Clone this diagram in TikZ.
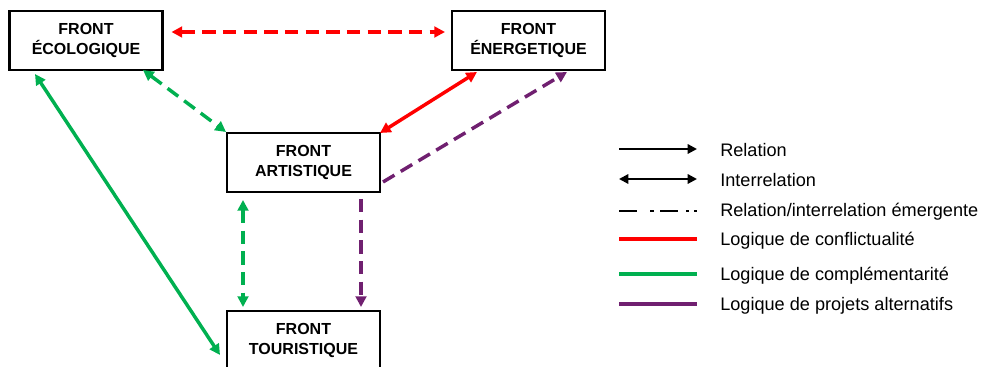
\documentclass[tikz,border=0pt]{standalone}
\usepackage{fontspec}
\setmainfont{Liberation Sans}
\usetikzlibrary{arrows.meta}

\definecolor{conflit}{RGB}{255,0,0}
\definecolor{complement}{RGB}{0,176,80}
\definecolor{alternatif}{RGB}{112,32,112}

\tikzset{
  frontbox/.style={draw, line width=1.9pt, outer sep=0pt, inner sep=0pt,
    minimum width=114.75pt, minimum height=44.25pt, align=center,
    font=\bfseries\fontsize{12}{15}\selectfont},
  lien/.style={line width=2.6pt},
  tirets/.style={dash pattern=on 10pt off 5.5pt},
  un/.style={-{Triangle[length=8pt,width=8pt]}},
  deux/.style={{Triangle[length=8pt,width=8pt]}-{Triangle[length=8pt,width=8pt]}},
  legtext/.style={anchor=base west, inner sep=0pt, font=\fontsize{13.6}{15}\selectfont},
  legline/.style={line width=3.3pt}
}

\begin{document}
\begin{tikzpicture}[x=0.75pt, y=-0.75pt]
        \useasboundingbox (0,0) rectangle (982,367);

        % les quatre fronts
        \node[frontbox] (eco) at (86,40.5) {FRONT\\ÉCOLOGIQUE};
        \node[frontbox] (ener) at (528.5,40.5) {FRONT\\ÉNERGETIQUE};
        \node[frontbox] (arti) at (303.5,162.5) {FRONT\\ARTISTIQUE};
        \node[frontbox] (tour) at (303.5,340.5) {FRONT\\TOURISTIQUE};

        % liens entre les fronts
        \draw[lien, tirets, conflit, deux] ([shift={(9,-8.5)}]eco.east) -- ([shift={(-7,-8.5)}]ener.west);
        \draw[lien, conflit, deux] ([shift={(-51.5,2)}]ener.south) -- (arti.north east);
        \draw[lien, tirets, complement, deux] ([shift={(57,0)}]eco.south) -- ([shift={(-1,-1)}]arti.north west);
        \draw[lien, complement, deux] ([shift={(-51,4)}]eco.south) -- ([shift={(-7,14.5)}]tour.west);
        \draw[lien, tirets, complement, deux] ([shift={(-60.5,8)}]arti.south) -- ([shift={(-60.5,-4)}]tour.north);
        \draw[lien, tirets, alternatif, un] ([shift={(3,-10)}]arti.south east) -- ([shift={(38.5,2)}]ener.south);
        \draw[lien, tirets, alternatif, un] ([shift={(57.5,7)}]arti.south) -- ([shift={(57.5,-4)}]tour.north);

        % legende
        \foreach \y [count=\i] in {149,179,211,239,274,304} {
          \coordinate (a\i) at (619,\y);
          \coordinate (b\i) at (697,\y);
        }
        \draw[line width=1.6pt, -{Triangle[length=7pt,width=7pt]}] (a1) -- (b1);
        \node[legtext] (t1) at (720,157) {Relation};
        \draw[line width=1.6pt, {Triangle[length=7pt,width=7pt]}-{Triangle[length=7pt,width=7pt]}] (a2) -- (b2);
        \node[legtext] (t2) at (720,187) {Interrelation};
        \draw[line width=2.2pt, dash pattern=on 13.5pt off 9.75pt on 3pt off 4.5pt on 13.5pt off 6pt on 2.25pt off 3.75pt on 2.25pt off 20pt] (a3) -- (b3);
        \node[legtext] (t3) at (720,217) {Relation/interrelation émergente};
        \draw[legline, conflit] (a4) -- (b4);
        \node[legtext] (t4) at (720,246) {Logique de conflictualité};
        \draw[legline, complement] (a5) -- (b5);
        \node[legtext] (t5) at (720,281) {Logique de complémentarité};
        \draw[legline, alternatif] (a6) -- (b6);
        \node[legtext] (t6) at (720,310) {Logique de projets alternatifs};
      \end{tikzpicture}
\end{document}
